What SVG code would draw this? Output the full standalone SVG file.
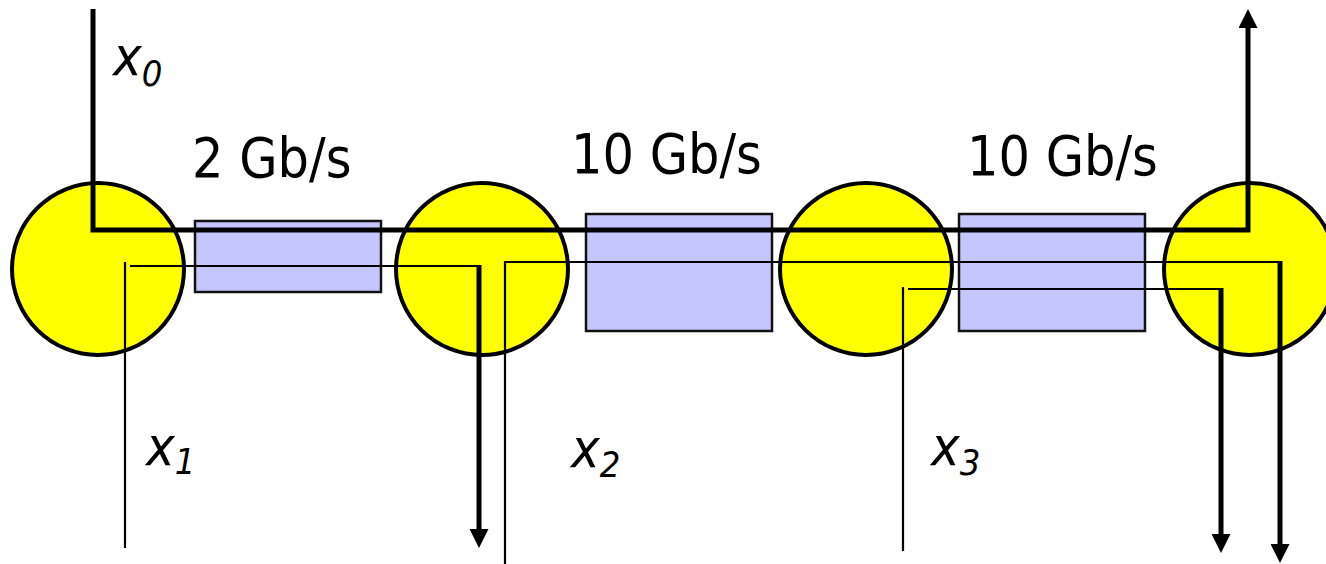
<svg xmlns="http://www.w3.org/2000/svg" width="1326" height="564" viewBox="0 0 1326 564">
<style>
.node{fill:#FFFF00;stroke:#000;stroke-width:4}
.link{fill:#C6C6FF;stroke:#111;stroke-width:2.5}
.rate{font-family:"DejaVu Sans Condensed","DejaVu Sans",sans-serif;font-stretch:condensed;font-size:55px;fill:#000}
.lbl{font-family:"DejaVu Sans Condensed","DejaVu Sans",sans-serif;font-stretch:condensed;font-style:italic;font-size:54px;fill:#000}
.sub{font-size:36px}
.thick{fill:none;stroke:#000;stroke-width:5}
.thin{fill:none;stroke:#000;stroke-width:2.2}
</style>
<defs>
<marker id="ah" markerUnits="userSpaceOnUse" markerWidth="19" markerHeight="19" refX="0" refY="9.5" orient="auto" viewBox="0 0 19 19">
<path d="M0,0 L19,9.5 L0,19 z" fill="#000"/>
</marker>
</defs>
<g id="node1"><circle class="node" cx="98" cy="269" r="86"/></g>
<g id="node2"><circle class="node" cx="482" cy="269" r="86"/></g>
<g id="node3"><circle class="node" cx="866" cy="269" r="86"/></g>
<g id="node4"><circle class="node" cx="1250" cy="269" r="86"/></g>
<g id="link1"><rect class="link" x="195" y="221" width="186" height="71"/><text class="rate" x="192" y="177">2 Gb/s</text></g>
<g id="link2"><rect class="link" x="586" y="214" width="186" height="117"/><text class="rate" x="571" y="173">10 Gb/s</text></g>
<g id="link3"><rect class="link" x="959" y="214" width="186" height="117"/><text class="rate" x="967" y="175">10 Gb/s</text></g>
<g id="connectors">
<path class="thick" d="M93,9 V230 H1248 V28" marker-end="url(#ah)"/>
<path class="thin" d="M125,262 V548"/>
<path class="thin" d="M130,266 H479"/>
<path class="thick" d="M479,265 V529" marker-end="url(#ah)"/>
<path class="thin" d="M505,564 V262 H1280"/>
<path class="thick" d="M1280,261 V544" marker-end="url(#ah)"/>
<path class="thin" d="M903,287 V551"/>
<path class="thin" d="M908,289 H1221"/>
<path class="thick" d="M1221,288 V534" marker-end="url(#ah)"/>
</g>
<g id="labels">
<text class="lbl" x="113" y="75">x<tspan class="sub" dy="11">0</tspan></text>
<text class="lbl" x="146" y="465">x<tspan class="sub" dy="9">1</tspan></text>
<text class="lbl" x="571" y="467">x<tspan class="sub" dy="10">2</tspan></text>
<text class="lbl" x="931" y="465">x<tspan class="sub" dy="10">3</tspan></text>
</g>
</svg>
